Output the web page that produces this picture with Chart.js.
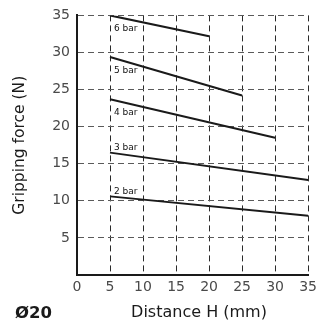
<!DOCTYPE html>
<html lang="en">
<head>
    <meta charset="UTF-8">
    <title>Gripping force</title>
    <script src="https://cdn.jsdelivr.net/npm/chart.js"></script>
    <style>
        body { margin: 0; background: #fff; }
    </style>
</head>
<body>
    <canvas id="myChart" width="321" height="329"></canvas>
    <script>
        // data
        const pressures = ['2 bar', '3 bar', '4 bar', '5 bar', '6 bar'];
        const distStart = [5, 5, 5, 5, 5];
        const distEnd = [35, 35, 30, 25, 20];
        const forceStart = [10.6, 16.5, 23.7, 29.4, 35];
        const forceEnd = [8.0, 12.8, 18.5, 24.2, 32.2];
        const xTicks = [0, 5, 10, 15, 20, 25, 30, 35];
        const yTicks = [5, 10, 15, 20, 25, 30, 35];

        const fontFam = '"DejaVu Sans", sans-serif';

        const datasets = pressures.map((p, i) => ({
            label: p,
            data: [{ x: distStart[i], y: forceStart[i] }, { x: distEnd[i], y: forceEnd[i] }],
            borderColor: '#1a1a1a',
            borderWidth: 2,
            pointRadius: 0,
            fill: false
        }));

        // small "n bar" labels next to the start of each line + extra texts
        const textPlugin = {
            id: 'texts',
            afterDatasetsDraw(chart) {
                const ctx = chart.ctx;
                ctx.save();
                ctx.fillStyle = '#111';
                ctx.font = '9px ' + fontFam;
                ctx.textAlign = 'left';
                chart.data.datasets.forEach((ds, i) => {
                    const pt = chart.getDatasetMeta(i).data[0];
                    if (i < 2) {
                        ctx.textBaseline = 'bottom';
                        ctx.fillText(ds.label, pt.x + 4, pt.y - 0.5);
                    } else {
                        ctx.textBaseline = 'top';
                        ctx.fillText(ds.label, pt.x + 4, pt.y + 9);
                    }
                });
                ctx.textBaseline = 'middle';
                ctx.fillStyle = '#1a1a1a';
                ctx.font = 'bold 16.5px ' + fontFam;
                ctx.fillText('Ø20', 15, 314);
                ctx.font = '16px ' + fontFam;
                ctx.textAlign = 'center';
                ctx.fillText('Distance H (mm)', 199, 313);
                ctx.restore();
            }
        };

        const gridX = (c) => c.tick && c.tick.value === 0 ? 'rgba(0,0,0,0)' : '#2a2a2a';
        const gridY = (c) => c.tick && c.tick.value === 0 ? 'rgba(0,0,0,0)' : '#5a5a5a';

        new Chart(document.getElementById('myChart'), {
            type: 'line',
            data: { datasets: datasets },
            options: {
                responsive: false,
                animation: false,
                layout: { padding: { top: 13, right: 11, left: 0, bottom: 0 } },
                plugins: { legend: { display: false }, tooltip: { enabled: false } },
                scales: {
                    x: {
                        type: 'linear',
                        min: 0, max: 35,
                        afterBuildTicks: (s) => { s.ticks = xTicks.map(v => ({ value: v })); },
                        afterFit: (s) => { s.height = 54; },
                        ticks: { color: '#4a4a4a', font: { family: fontFam, size: 14 }, padding: 4 },
                        grid: { color: gridX, lineWidth: 1, drawTicks: false },
                        border: { display: true, color: '#1a1a1a', width: 2, dash: [6, 4] }
                    },
                    y: {
                        min: 0, max: 35,
                        afterBuildTicks: (s) => { s.ticks = yTicks.map(v => ({ value: v })); },
                        afterFit: (s) => { s.width = 77; },
                        ticks: { color: '#4a4a4a', font: { family: fontFam, size: 14 }, padding: 7 },
                        grid: { color: gridY, lineWidth: 1, drawTicks: false },
                        border: { display: true, color: '#1a1a1a', width: 2, dash: [6, 4] },
                        title: {
                            display: true,
                            text: 'Gripping force (N)',
                            color: '#1a1a1a',
                            font: { family: fontFam, size: 15.5 },
                            padding: { top: 11, bottom: 0 }
                        }
                    }
                }
            },
            plugins: [textPlugin]
        });
    </script>
</body>
</html>
